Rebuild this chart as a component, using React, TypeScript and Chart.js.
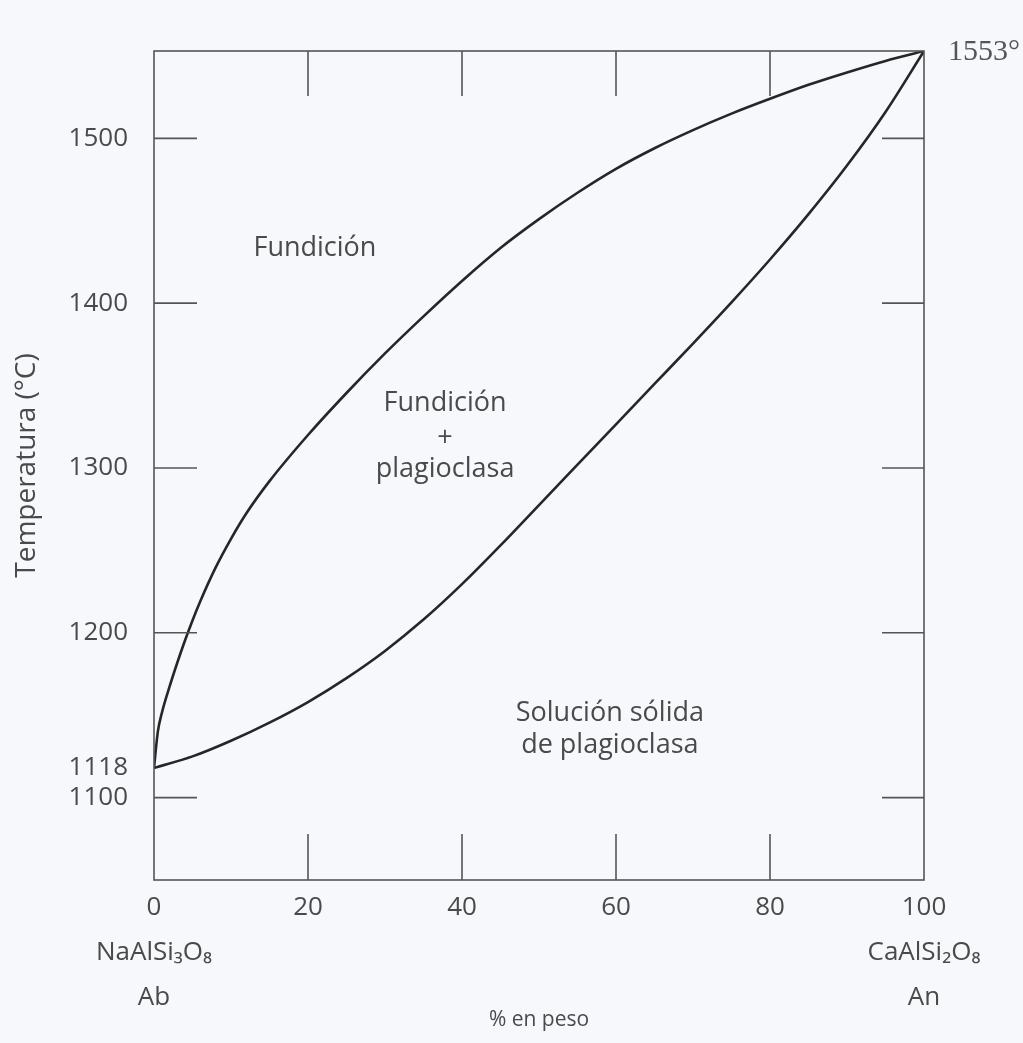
import React, { useEffect, useRef } from "react";
import { Chart, registerables } from "chart.js";

Chart.register(...registerables);

// Liquidus curve (upper): composition % An vs temperature °C
const liquidusX = [0, 0.5, 1, 2, 3, 4, 5, 6, 8, 10, 12, 15, 20, 25, 30, 35, 40, 45, 50, 55, 60, 65, 70, 75, 80, 85, 90, 95, 100];
const liquidusT = [1118, 1140, 1151, 1167, 1181.5, 1195, 1207.5, 1219, 1239.5, 1257, 1272.5, 1292, 1320, 1345.5, 1369.5, 1392, 1413.5, 1433.5, 1451, 1467, 1481.5, 1494, 1505, 1515, 1524, 1532.5, 1540, 1547, 1553];

// Solidus curve (lower)
const solidusX = [0, 5, 10, 15, 20, 25, 30, 35, 40, 45, 50, 55, 60, 65, 70, 75, 80, 85, 90, 95, 100];
const solidusT = [1118, 1125, 1134.5, 1145.5, 1158, 1172.5, 1189, 1208, 1229.5, 1253, 1277.5, 1302, 1326.5, 1351, 1375.5, 1400.5, 1426.5, 1454, 1483.5, 1516, 1553];

// Axis ticks
const xTicks = [0, 20, 40, 60, 80, 100];
const yTicks = [1100, 1118, 1200, 1300, 1400, 1500];
const frameTicksY = [1100, 1200, 1300, 1400, 1500];
const frameTicksX = [20, 40, 60, 80];
const leftEndLabel = ["NaAlSi₃O₈", "Ab"];
const rightEndLabel = ["CaAlSi₂O₈", "An"];

// Region labels (positions in data units)
const regionTexts = ["Fundición", "Fundición", "+", "plagioclasa", "Solución sólida", "de plagioclasa"];
const regionX = [20.9, 37.8, 37.8, 37.8, 59.2, 59.2];
const regionT = [1433, 1339, 1318, 1299, 1151, 1131.5];

const peakLabel = "1553°";
const peakX = 100;
const peakT = 1553;

const X_MIN = 0;
const X_MAX = 100;
const Y_MIN = 1050;
const Y_MAX = 1553;

const SANS = "'Open Sans', 'DejaVu Sans', sans-serif";
const TEXT = "#4a4a4a";

const decorPlugin = {
  id: "decor",
  beforeDraw(chart: any) {
    const { ctx, width, height } = chart;
    ctx.save();
    ctx.fillStyle = "#f7f8fb";
    ctx.fillRect(0, 0, width, height);
    ctx.restore();
  },
  afterDraw(chart: any) {
    const { ctx, chartArea: a, scales } = chart;
    const x = scales.x;
    const y = scales.y;
    ctx.save();
    ctx.strokeStyle = "#555";
    ctx.lineWidth = 1.6;
    ctx.strokeRect(a.left, a.top, a.right - a.left, a.bottom - a.top);
    ctx.beginPath();
    frameTicksY.forEach((v) => {
      const py = y.getPixelForValue(v);
      ctx.moveTo(a.left, py);
      ctx.lineTo(a.left + 43, py);
      ctx.moveTo(a.right, py);
      ctx.lineTo(a.right - 42, py);
    });
    frameTicksX.forEach((v) => {
      const px = x.getPixelForValue(v);
      ctx.moveTo(px, a.top);
      ctx.lineTo(px, a.top + 45);
      ctx.moveTo(px, a.bottom);
      ctx.lineTo(px, a.bottom - 46);
    });
    ctx.stroke();

    ctx.fillStyle = TEXT;
    ctx.textAlign = "center";
    ctx.textBaseline = "middle";
    ctx.font = `27px ${SANS}`;
    regionTexts.forEach((t, i) => {
      ctx.fillText(t, x.getPixelForValue(regionX[i]), y.getPixelForValue(regionT[i]));
    });

    ctx.font = "30px 'Liberation Serif', 'DejaVu Serif', serif";
    ctx.textAlign = "left";
    ctx.fillStyle = "#555";
    ctx.fillText(peakLabel, x.getPixelForValue(peakX) + 24, y.getPixelForValue(peakT) + 1);
    ctx.restore();
  },
};

export default function App() {
  const canvasRef = useRef<HTMLCanvasElement | null>(null);

  useEffect(() => {
    if (!canvasRef.current) return;
    const chart = new Chart(canvasRef.current, {
      type: "line",
      data: {
        datasets: [
          {
            label: "Liquidus",
            data: liquidusX.map((v, i) => ({ x: v, y: liquidusT[i] })),
            borderColor: "#262626",
            borderWidth: 2.6,
            pointRadius: 0,
            cubicInterpolationMode: "monotone",
            fill: false,
          },
          {
            label: "Solidus",
            data: solidusX.map((v, i) => ({ x: v, y: solidusT[i] })),
            borderColor: "#262626",
            borderWidth: 2.6,
            pointRadius: 0,
            cubicInterpolationMode: "monotone",
            fill: false,
          },
        ],
      },
      options: {
        responsive: false,
        animation: false,
        events: [],
        layout: { padding: { left: 0, top: 51, right: 99, bottom: 0 } },
        plugins: {
          legend: { display: false },
          tooltip: { enabled: false },
        },
        scales: {
          x: {
            type: "linear",
            min: X_MIN,
            max: X_MAX,
            afterBuildTicks: (s: any) => {
              s.ticks = xTicks.map((v) => ({ value: v }));
            },
            afterFit: (s: any) => {
              s.height = 163;
            },
            grid: { display: false, drawTicks: false },
            border: { display: false },
            ticks: {
              autoSkip: false,
              maxRotation: 0,
              padding: 5,
              color: TEXT,
              font: { family: SANS, size: 26, lineHeight: 1.73 },
              callback: (v: any) =>
                v === 0 ? [String(v), ...leftEndLabel] : v === 100 ? [String(v), ...rightEndLabel] : String(v),
            },
            title: {
              display: true,
              text: "% en peso",
              color: TEXT,
              font: { family: SANS, size: 21, lineHeight: 1.2 },
              padding: { top: 0, bottom: 10 },
            },
          },
          y: {
            type: "linear",
            min: Y_MIN,
            max: Y_MAX,
            afterBuildTicks: (s: any) => {
              s.ticks = yTicks.map((v) => ({ value: v }));
            },
            afterFit: (s: any) => {
              s.width = 154;
            },
            grid: { display: false, drawTicks: false },
            border: { display: false },
            ticks: {
              autoSkip: false,
              padding: 26,
              color: TEXT,
              font: { family: SANS, size: 26, lineHeight: 1.1 },
              callback: (v: any) => String(v),
            },
            title: {
              display: true,
              text: "Temperatura (°C)",
              color: TEXT,
              font: { family: SANS, size: 28, lineHeight: 1.2 },
              padding: { top: 10, bottom: 0 },
            },
          },
        },
      },
      plugins: [decorPlugin],
    } as any);
    return () => chart.destroy();
  }, []);

  return (
    <div style={{ position: "absolute", left: 0, top: 0, width: 1023, height: 1043 }}>
      <canvas ref={canvasRef} width={1023} height={1043} style={{ display: "block" }} />
    </div>
  );
}
